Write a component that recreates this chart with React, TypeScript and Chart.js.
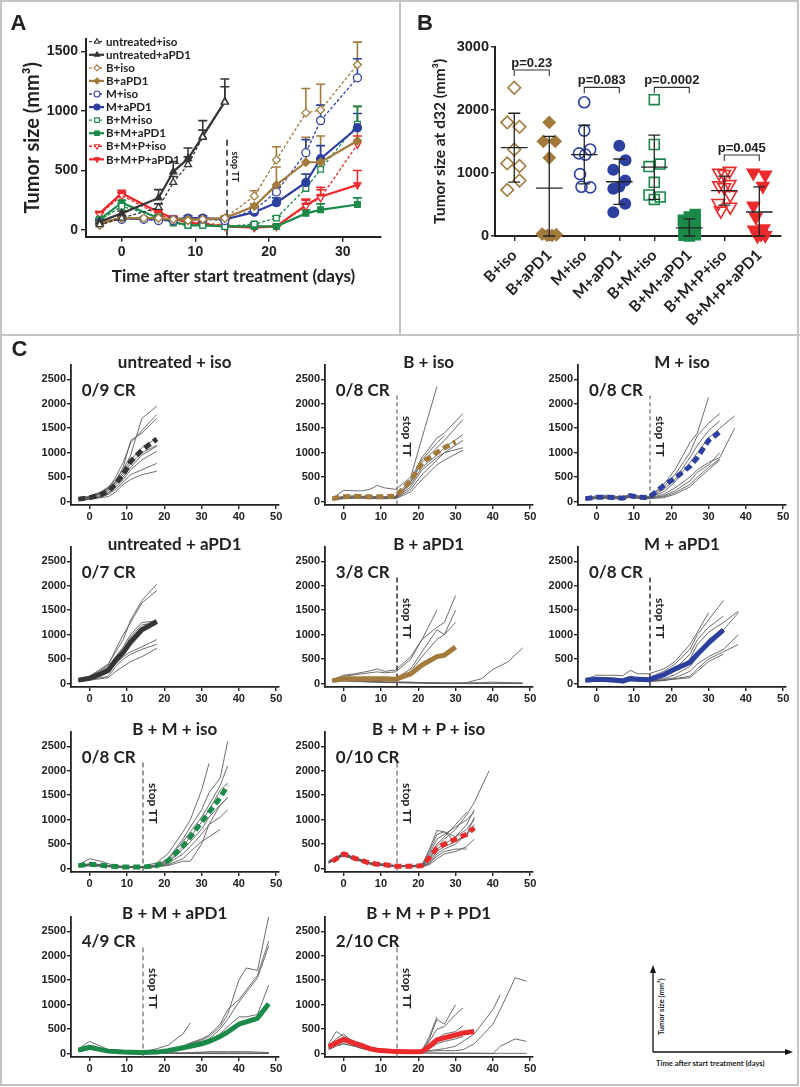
import React, { useEffect, useRef } from 'react';
import { Chart, registerables } from 'chart.js';
Chart.register(...registerables);

const NUM = '"Liberation Sans", Arial, sans-serif';
const LBL = 'Lato, "Open Sans", sans-serif';
const INK = '#222222';

const DARK = '#353535';
const BROWN = '#A27B3C';
const BLUE = '#2D3F9F';
const GREEN = '#1B8A49';
const RED = '#EB2A2C';

// ---------------- Panel A data ----------------
const aDays = [-3, 0, 3, 5, 7, 9, 11, 14, 18, 21, 25, 27, 32];
const aYTicks = [0, 500, 1000, 1500];
const aXTicks = [0, 10, 20, 30];
const aUntreatedIso = [45, 100, null, 190, 400, 550, 780, 1075, null, null, null, null, null];
const aUntreatedIsoErr = [10, 20, null, 30, 50, 65, 60, 195, null, null, null, null, null];
const aUntreatedPD1 = [70, 140, null, 270, 490, 600, 790, 1080, null, null, null, null, null];
const aUntreatedPD1Err = [10, 20, null, 70, 85, 90, 130, 125, null, null, null, null, null];
const aBIso = [40, 100, 100, 100, 90, 80, 90, 100, 285, 590, 985, 1010, 1390];
const aBIsoErr = [10, 15, 10, 10, 10, 10, 10, 15, 45, 110, 205, 215, 190];
const aBPD1 = [60, 100, null, 100, 90, 90, 90, 100, 200, 380, 570, 570, 750];
const aBPD1Err = [10, 15, null, 10, 10, 10, 10, 15, 20, 150, 210, 220, 290];
const aMIso = [60, 90, 90, 80, 80, 90, 90, 80, 170, 320, 650, 920, 1280];
const aMIsoErr = [10, 10, 10, 10, 10, 10, 10, 10, 20, 40, 110, 130, 160];
const aMPD1 = [60, 100, null, 90, 90, 100, 100, 90, 150, 230, 400, 600, 860];
const aMPD1Err = [10, 10, null, 10, 10, 20, 20, 10, 20, 40, 70, 110, 120];
const aBMIso = [80, 200, null, 110, 60, 40, 40, 30, 50, 100, 350, 510, 890];
const aBMIsoErr = [10, 25, null, 15, 10, 5, 5, 5, 10, 15, 50, 60, 150];
const aBMPD1 = [90, 230, null, 100, 70, 40, 40, 30, 30, 30, 140, 170, 215];
const aBMPD1Err = [10, 20, null, 15, 10, 5, 5, 5, 5, 5, 30, 50, 55];
const aBMPIso = [130, 290, null, 130, 90, 70, 60, 40, 30, 30, 200, 270, 720];
const aBMPIsoErr = [15, 25, null, 20, 10, 10, 10, 5, 5, 5, 50, 70, 70];
const aBMPPD1 = [140, 310, null, 150, 100, 60, 50, 30, 20, 30, 210, 280, 380];
const aBMPPD1Err = [15, 25, null, 20, 15, 10, 10, 5, 5, 5, 50, 80, 120];
const aStopDay = 14.3;

const aSeries = [
  { label: 'untreated+iso', vals: aUntreatedIso, errs: aUntreatedIsoErr, color: DARK, dash: true, marker: 'triangle', rot: 0, filled: false },
  { label: 'untreated+aPD1', vals: aUntreatedPD1, errs: aUntreatedPD1Err, color: DARK, dash: false, marker: 'triangle', rot: 0, filled: true },
  { label: 'B+iso', vals: aBIso, errs: aBIsoErr, color: BROWN, dash: true, marker: 'rectRot', rot: 0, filled: false },
  { label: 'B+aPD1', vals: aBPD1, errs: aBPD1Err, color: BROWN, dash: false, marker: 'rectRot', rot: 0, filled: true },
  { label: 'M+iso', vals: aMIso, errs: aMIsoErr, color: BLUE, dash: true, marker: 'circle', rot: 0, filled: false },
  { label: 'M+aPD1', vals: aMPD1, errs: aMPD1Err, color: BLUE, dash: false, marker: 'circle', rot: 0, filled: true },
  { label: 'B+M+iso', vals: aBMIso, errs: aBMIsoErr, color: GREEN, dash: true, marker: 'rect', rot: 0, filled: false },
  { label: 'B+M+aPD1', vals: aBMPD1, errs: aBMPD1Err, color: GREEN, dash: false, marker: 'rect', rot: 0, filled: true },
  { label: 'B+M+P+iso', vals: aBMPIso, errs: aBMPIsoErr, color: RED, dash: true, marker: 'triangle', rot: 180, filled: false },
  { label: 'B+M+P+aPD1', vals: aBMPPD1, errs: aBMPPD1Err, color: RED, dash: false, marker: 'triangle', rot: 180, filled: true },
];

// ---------------- Panel B data ----------------
const bGroups = ['B+iso', 'B+aPD1', 'M+iso', 'M+aPD1', 'B+M+iso', 'B+M+aPD1', 'B+M+P+iso', 'B+M+P+aPD1'];
const bYTicks = [0, 1000, 2000, 3000];
const bBIso = [2350, 1800, 1730, 1370, 1150, 1110, 880, 730];
const bBPD1 = [1800, 1500, 1500, 1240, 30, 10, 10, 20];
const bMIso = [2120, 1670, 1370, 1310, 1290, 980, 780, 770];
const bMPD1 = [1430, 1200, 1050, 880, 780, 750, 510, 375];
const bBMIso = [2160, 1450, 1140, 1100, 850, 650, 620, 580];
const bBMPD1 = [340, 300, 250, 200, 100, 60, 20, 10, 0];
const bBMPIso = [1030, 1000, 980, 820, 800, 770, 650, 520, 460, 400];
const bBMPPD1 = [1000, 970, 790, 480, 300, 120, 100, 30, 10, 0];
const bSpread = [
  [0, -0.2, 0.15, 0, -0.2, 0.15, 0.15, -0.2],
  [0, -0.17, 0.17, 0, -0.2, -0.06, 0.08, 0.2],
  [0, 0, 0.17, -0.15, 0.03, -0.12, -0.08, 0.17],
  [0, 0.18, -0.17, 0.17, 0, -0.17, 0.17, -0.17],
  [0, 0, 0.17, -0.15, 0, -0.15, 0.17, 0],
  [0.17, 0, -0.17, 0.17, -0.15, 0.05, 0.17, -0.15, 0],
  [0.15, -0.15, 0, 0.15, -0.15, 0, 0.17, -0.17, 0.17, -0.1],
  [-0.17, 0.17, 0.1, -0.17, -0.1, 0.12, -0.15, 0.05, 0.17, -0.05],
];
const bMean = [1400, 760, 1290, 860, 1090, 130, 720, 380];
const bSd = [545, 820, 465, 360, 510, 140, 230, 400];
const bPValues = ['p=0.23', 'p=0.083', 'p=0.0002', 'p=0.045'];
const bPPairs = [[0, 1], [2, 3], [4, 5], [6, 7]];
const bPLevel = [2630, 2356, 2356, 1284];

const bSeries = [
  { vals: bBIso, color: BROWN, marker: 'rectRot', rot: 0, filled: false, r: 6.3 },
  { vals: bBPD1, color: BROWN, marker: 'rectRot', rot: 0, filled: true, r: 5.8 },
  { vals: bMIso, color: BLUE, marker: 'circle', rot: 0, filled: false, r: 5.5 },
  { vals: bMPD1, color: BLUE, marker: 'circle', rot: 0, filled: true, r: 5.2 },
  { vals: bBMIso, color: GREEN, marker: 'rect', rot: 0, filled: false, r: 7 },
  { vals: bBMPD1, color: GREEN, marker: 'rect', rot: 0, filled: true, r: 7 },
  { vals: bBMPIso, color: RED, marker: 'triangle', rot: 180, filled: false, r: 7.3 },
  { vals: bBMPPD1, color: RED, marker: 'triangle', rot: 180, filled: true, r: 7 },
];

// ---------------- Panel C data ----------------
const cXTicks = [0, 10, 20, 30, 40, 50];
const cYTicks = [0, 500, 1000, 1500, 2000, 2500];
const cStopDay = 14.3;
const cStopTop = 2170;

const cUntrIsoDays = [-3, 0, 3, 5, 7, 9, 11, 14, 18];
const cUntrIsoMice = [
  [60, 100, 200, 300, 450, 650, 950, 1700, 1950],
  [50, 90, 180, 280, 500, 800, 1200, 1450, 1780],
  [70, 110, 190, 270, 420, 700, 1250, 1400, 1700],
  [60, 90, 160, 250, 380, 550, 780, 1000, 1150],
  [40, 80, 150, 220, 400, 600, 850, 1100, 1300],
  [50, 70, 120, 180, 350, 500, 700, 950, 1130],
  [40, 60, 100, 170, 300, 450, 650, 850, 1030],
  [30, 60, 90, 150, 250, 400, 550, 650, 780],
  [30, 50, 80, 100, 200, 350, 450, 550, 620],
];
const cUntrIsoMean = [50, 80, 140, 210, 360, 560, 820, 1050, 1280];

const cBIsoDays = [-3, 0, 3, 5, 7, 9, 11, 14, 18, 21, 25, 27, 32];
const cBIsoMice = [
  [70, 230, 220, 220, 250, 330, 280, 250, 500, 1300, 2350, null, null],
  [60, 110, 120, 110, 110, 100, 100, 110, 450, 900, 1300, 1400, 1800],
  [50, 90, 100, 100, 90, 90, 90, 100, 400, 800, 1100, 1250, 1680],
  [40, 80, 90, 80, 80, 80, 80, 90, 350, 700, 950, 1100, 1370],
  [50, 80, 90, 90, 80, 70, 80, 80, 300, 650, 900, 1000, 1100],
  [40, 70, 80, 80, 70, 70, 60, 70, 250, 550, 850, 1000, 1250],
  [30, 60, 70, 70, 60, 60, 60, 60, 200, 450, 750, 850, 1050],
  [40, 70, 80, 80, 70, 70, 70, 70, 400, 850, 1200, 1350, null],
];
const cBIsoMeanDays = [-3, 0, 3, 5, 7, 9, 11, 14, 18, 21, 25, 27, 30];
const cBIsoMean = [60, 100, 110, 100, 100, 100, 100, 110, 430, 800, 1000, 1100, 1220];

const cMIsoDays = [-3, 0, 3, 5, 7, 9, 11, 14, 18, 21, 25, 27, 30, 33, 37];
const cMIsoMice = [
  [60, 100, 110, 100, 80, 150, 110, 90, 350, 650, 1200, 1400, 2130, null, null],
  [70, 120, 130, 110, 90, 160, 120, 100, 300, 550, 1000, 1350, 1600, 1800, null],
  [50, 90, 100, 90, 80, 130, 100, 90, 250, 450, 900, 1150, 1450, 1650, null],
  [60, 90, 90, 80, 70, 120, 90, 80, 200, 400, 800, 1000, 1300, 1500, 1750],
  [50, 80, 80, 70, 60, 110, 80, 70, 150, 280, 500, 650, 800, 900, 1500],
  [40, 70, 70, 60, 60, 100, 70, 60, 120, 220, 420, 600, 750, 1000, null],
  [50, 80, 80, 70, 60, 100, 80, 70, 100, 180, 350, 500, 700, 870, null],
  [40, 60, 70, 60, 50, 90, 70, 60, 80, 150, 300, 450, 650, 850, null],
];
const cMIsoMeanDays = [-3, 0, 3, 5, 7, 9, 11, 14, 18, 21, 25, 27, 30, 33];
const cMIsoMean = [60, 90, 90, 80, 70, 120, 90, 80, 330, 480, 720, 900, 1250, 1420];

const cUntrPD1Days = [-3, 0, 3, 5, 7, 9, 11, 14, 18];
const cUntrPD1Mice = [
  [60, 150, 300, 400, 650, 900, 1300, 1700, 2030],
  [80, 130, 280, 380, 700, 1000, 1250, 1650, 1900],
  [90, 120, 250, 350, 550, 750, 1000, 1250, 1280],
  [70, 100, 200, 300, 500, 700, 950, 1200, 1250],
  [50, 80, 150, 250, 400, 550, 650, 750, 900],
  [60, 90, 120, 150, 350, 500, 600, 700, 800],
  [40, 70, 100, 120, 250, 350, 450, 550, 720],
];
const cUntrPD1Mean = [70, 110, 200, 270, 480, 640, 850, 1100, 1270];

const cBPD1Days = [-3, 0, 3, 5, 7, 9, 11, 14, 18, 21, 25, 27, 30, 33, 37, 40, 44, 48];
const cBPD1Mice = [
  [80, 170, 200, 230, 260, 300, 250, 280, 550, 900, 1500, null, null, null, null, null, null, null],
  [70, 150, 180, 200, 220, 240, 220, 240, 500, 900, 1150, 1250, 1800, null, null, null, null, null],
  [60, 100, 110, 120, 110, 110, 100, 110, 300, 650, 1100, 1000, 1500, null, null, null, null, null],
  [50, 90, 100, 100, 90, 90, 80, 100, 250, 550, 900, 1000, 1250, null, null, null, null, null],
  [70, 80, 70, 60, 50, 40, 30, 30, 30, 20, 10, 10, 10, 20, 100, 290, 440, 730],
  [50, 60, 50, 40, 40, 30, 30, 20, 20, 10, 10, 10, 10, 10, 20, 30, 20, 10],
  [40, 50, 40, 40, 30, 30, 20, 20, 10, 10, 0, 0, 0, 0, 0, 0, 0, 0],
  [60, 70, 60, 50, 40, 40, 30, 30, 20, 20, 20, 10, 10, 10, 10, 10, 10, 10],
];
const cBPD1MeanDays = [-3, 0, 3, 5, 7, 9, 11, 14, 18, 21, 25, 27, 30];
const cBPD1Mean = [60, 100, 100, 100, 100, 100, 100, 90, 200, 380, 550, 580, 750];

const cMPD1Days = [-3, 0, 3, 5, 7, 9, 11, 14, 18, 21, 25, 27, 30, 34, 38];
const cMPD1Mice = [
  [90, 170, 170, 170, 160, 270, 200, 200, 300, 450, 800, 1050, 1450, null, null],
  [80, 120, 120, 110, 100, 150, 120, 120, 250, 400, 700, 1000, 1300, 1700, null],
  [70, 100, 100, 90, 80, 110, 90, 90, 200, 300, 600, 900, 1150, 1380, null],
  [60, 80, 80, 70, 60, 100, 80, 80, 150, 250, 500, 800, 1050, 1250, 1480],
  [60, 80, 70, 60, 50, 90, 70, 60, 100, 180, 350, 550, 900, 1100, 1450],
  [50, 70, 60, 50, 40, 70, 60, 50, 80, 120, 250, 400, 550, 700, 1000],
  [40, 60, 50, 40, 40, 60, 50, 40, 60, 100, 150, 300, 500, 650, 800],
  [50, 60, 60, 50, 40, 70, 60, 50, 70, 90, 120, 250, 450, 600, null],
];
const cMPD1MeanDays = [-3, 0, 3, 5, 7, 9, 11, 14, 18, 21, 25, 27, 30, 34];
const cMPD1Mean = [70, 90, 80, 70, 50, 100, 90, 80, 180, 300, 430, 600, 830, 1100];

const cBMIsoDays = [-3, 0, 3, 5, 7, 9, 11, 14, 18, 21, 25, 27, 30, 32, 35, 37];
const cBMIsoMice = [
  [80, 200, 150, 100, 60, 50, 40, 40, 120, 300, 750, 1000, 1600, 2150, null, null],
  [60, 100, 80, 60, 50, 40, 40, 30, 80, 200, 600, 850, 1200, 1550, 1850, 2600],
  [70, 90, 70, 50, 40, 30, 30, 30, 60, 180, 550, 750, 1050, 1300, 1700, 2100],
  [50, 80, 60, 50, 40, 30, 20, 30, 50, 150, 450, 650, 950, 1200, 1600, 1750],
  [60, 70, 60, 50, 40, 30, 30, 20, 50, 120, 400, 550, 800, 1050, 1300, 1450],
  [50, 60, 50, 40, 30, 30, 20, 20, 40, 100, 300, 450, 700, 900, 1050, 1200],
  [40, 60, 50, 40, 30, 20, 20, 20, 40, 80, 200, 350, 550, 650, 800, null],
  [70, 80, 60, 50, 40, 30, 30, 30, 40, 60, 150, 150, 500, 900, 1300, 1450],
];
const cBMIsoMean = [60, 90, 70, 50, 40, 30, 30, 30, 60, 160, 450, 650, 950, 1150, 1450, 1700];

const cBMPIsoDays = [-4, 0, 3, 5, 7, 9, 11, 14, 18, 21, 23, 25, 27, 30, 33, 35, 39];
const cBMPIsoMice = [
  [120, 320, 220, 180, 120, 100, 90, 60, 60, 60, 200, 450, 600, 800, 1100, 1350, 2000],
  [150, 300, 200, 160, 110, 90, 80, 50, 50, 60, 400, 780, 750, 650, 900, 1200, null],
  [140, 280, 200, 150, 100, 80, 70, 50, 40, 50, 300, 600, 700, 850, 1000, 1150, null],
  [130, 290, 210, 160, 110, 90, 80, 50, 50, 70, 250, 500, 650, 900, 1150, null, null],
  [160, 310, 220, 170, 120, 100, 90, 60, 60, 80, 350, 700, 750, 550, 700, 1050, null],
  [120, 270, 190, 150, 100, 80, 70, 40, 40, 50, 200, 400, 500, 650, 800, 1000, null],
  [150, 300, 200, 160, 110, 90, 70, 50, 50, 50, 150, 350, 450, 550, 700, 900, null],
  [130, 290, 210, 160, 100, 80, 70, 50, 40, 40, 100, 300, 400, 500, 700, 850, null],
  [110, 260, 180, 140, 90, 70, 60, 40, 40, 40, 120, 250, 350, 400, 400, null, null],
  [140, 280, 190, 150, 100, 80, 60, 40, 40, 40, 80, 200, 300, 350, 450, 600, null],
];
const cBMPIsoMeanDays = [-3, 0, 3, 5, 7, 9, 11, 14, 18, 21, 23, 25, 27, 30, 33, 35];
const cBMPIsoMean = [150, 300, 210, 160, 110, 90, 80, 50, 50, 60, 220, 420, 500, 600, 700, 830];

const cBMPD1Days = [-3, 0, 3, 5, 7, 9, 11, 14, 18, 21, 25, 27, 30, 32, 35, 37, 40, 42, 45, 48];
const cBMPD1Mice = [
  [100, 250, 150, 80, 60, 50, 40, 30, 100, 170, 400, 630, null, null, null, null, null, null, null, null],
  [80, 150, 100, 60, 50, 40, 30, 30, 40, 60, 120, 200, 280, 350, 550, 800, 1500, 1750, 1700, 2800],
  [70, 140, 90, 60, 50, 40, 30, 30, 40, 70, 150, 220, 300, 380, 600, 900, 1100, 1300, 1600, 2300],
  [60, 120, 80, 50, 40, 30, 30, 20, 30, 60, 130, 200, 250, 300, 500, 700, 1050, 1250, 1550, 2200],
  [70, 130, 80, 50, 40, 30, 20, 20, 30, 50, 100, 150, 220, 280, 400, 550, 750, 750, 800, 1400],
  [50, 100, 70, 40, 30, 20, 20, 10, 10, 10, 10, 20, 30, 40, 40, 40, 40, 40, 30, 20],
  [60, 110, 70, 40, 30, 20, 20, 10, 10, 10, 10, 10, 10, 10, 10, 10, 10, 10, 10, 10],
  [40, 90, 60, 30, 20, 20, 10, 10, 10, 10, 0, 0, 0, 0, 0, 0, 0, 0, 0, 0],
  [50, 100, 60, 40, 30, 20, 10, 10, 10, 10, 10, 10, 10, 10, 10, 10, 10, 10, 10, 10],
];
const cBMPD1Mean = [70, 130, 80, 50, 40, 30, 25, 20, 30, 60, 120, 150, 200, 250, 350, 440, 600, 650, 720, 1020];

const cBMPPD1Days = [-4, -2, 0, 3, 5, 7, 9, 11, 14, 18, 21, 23, 25, 27, 30, 32, 35, 40, 42, 46, 49];
const cBMPPD1Mice = [
  [150, 200, 250, 180, 140, 100, 80, 60, 50, 40, 40, 50, 60, 60, 60, 80, 200, 600, 900, 1550, 1480],
  [120, 250, 300, 200, 150, 100, 70, 60, 50, 40, 40, 60, 80, 100, 150, 250, 400, 900, 1200, null, null],
  [200, 450, 350, 250, 150, 100, 70, 60, 50, 40, 50, 300, 700, 600, 1000, null, null, null, null, null, null],
  [150, 300, 400, 200, 150, 100, 70, 60, 50, 40, 50, 250, 500, 550, 800, 930, null, null, null, null, null],
  [130, 250, 300, 200, 150, 100, 80, 60, 50, 40, 60, 350, 750, null, null, null, null, null, null, null, null],
  [100, 200, 250, 180, 140, 100, 70, 60, 40, 30, 40, 200, 300, 400, 450, 570, null, null, null, null, null],
  [120, 220, 280, 190, 140, 90, 60, 50, 40, 30, 30, 100, 200, 250, 300, 350, null, null, null, null, null],
  [80, 150, 200, 150, 100, 70, 50, 40, 30, 20, 20, 10, 10, 10, 10, 10, 10, 0, 150, 300, 250],
  [100, 180, 200, 150, 100, 70, 50, 40, 30, 20, 10, 10, 10, 5, 5, 5, 5, 5, 5, 5, 5],
  [130, 220, 260, 170, 130, 90, 60, 50, 40, 30, 40, 150, 250, 300, 350, 400, null, null, null, null, null],
];
const cBMPPD1MeanDays = [-4, -2, 0, 3, 5, 7, 9, 11, 14, 18, 21, 23, 25, 27, 30, 32, 35];
const cBMPPD1Mean = [140, 220, 290, 210, 160, 100, 70, 60, 40, 35, 40, 150, 280, 320, 380, 420, 450];

const cPanels = [
  { title: 'untreated + iso', cr: '0/9 CR', col: 0, row: 0, days: cUntrIsoDays, mice: cUntrIsoMice, meanDays: cUntrIsoDays, mean: cUntrIsoMean, color: DARK, dashed: true, stop: null },
  { title: 'B + iso', cr: '0/8 CR', col: 1, row: 0, days: cBIsoDays, mice: cBIsoMice, meanDays: cBIsoMeanDays, mean: cBIsoMean, color: BROWN, dashed: true, stop: '#444' },
  { title: 'M + iso', cr: '0/8 CR', col: 2, row: 0, days: cMIsoDays, mice: cMIsoMice, meanDays: cMIsoMeanDays, mean: cMIsoMean, color: BLUE, dashed: true, stop: '#444' },
  { title: 'untreated + aPD1', cr: '0/7 CR', col: 0, row: 1, days: cUntrPD1Days, mice: cUntrPD1Mice, meanDays: cUntrPD1Days, mean: cUntrPD1Mean, color: DARK, dashed: false, stop: null },
  { title: 'B + aPD1', cr: '3/8 CR', col: 1, row: 1, days: cBPD1Days, mice: cBPD1Mice, meanDays: cBPD1MeanDays, mean: cBPD1Mean, color: BROWN, dashed: false, stop: '#333' },
  { title: 'M + aPD1', cr: '0/8 CR', col: 2, row: 1, days: cMPD1Days, mice: cMPD1Mice, meanDays: cMPD1MeanDays, mean: cMPD1Mean, color: BLUE, dashed: false, stop: '#333' },
  { title: 'B + M + iso', cr: '0/8 CR', col: 0, row: 2, days: cBMIsoDays, mice: cBMIsoMice, meanDays: cBMIsoDays, mean: cBMIsoMean, color: GREEN, dashed: true, stop: '#777' },
  { title: 'B + M + P + iso', cr: '0/10 CR', col: 1, row: 2, days: cBMPIsoDays, mice: cBMPIsoMice, meanDays: cBMPIsoMeanDays, mean: cBMPIsoMean, color: RED, dashed: true, stop: '#888' },
  { title: 'B + M + aPD1', cr: '4/9 CR', col: 0, row: 3, days: cBMPD1Days, mice: cBMPD1Mice, meanDays: cBMPD1Days, mean: cBMPD1Mean, color: GREEN, dashed: false, stop: '#888' },
  { title: 'B + M + P + PD1', cr: '2/10 CR', col: 1, row: 3, days: cBMPPD1Days, mice: cBMPPD1Mice, meanDays: cBMPPD1MeanDays, mean: cBMPPD1Mean, color: RED, dashed: false, stop: '#888' },
];

// ---------------- layout constants ----------------
const C_AXIS_X = [70.7, 324.7, 578];
const C_ZERO_Y = [501.7, 684, 869, 1053.3];
const C_KY = 0.04892;
const C_KX = 3.73;
const C_H = 140;
const C_W = 208;
const C_YMIN = -70;
const C_YMAX = C_YMIN + C_H / C_KY;
const C_XMIN = -5;
const C_XMAX = C_XMIN + C_W / C_KX;
const C_PAD_TOP = 10;
const C_YAXIS_W = 50;
const C_XAXIS_H = 22;

// ---------------- helpers ----------------
function toPts(days: number[], vals: (number | null)[]) {
  const out: any[] = [];
  days.forEach((d, i) => {
    const v = vals[i];
    if (v !== null && v !== undefined) out.push({ x: d, y: v });
  });
  return out;
}

function drawMarker(ctx: any, style: string, x: number, y: number, r: number, rot: number, fill: string, stroke: string, lw: number) {
  ctx.save();
  ctx.translate(x, y);
  ctx.rotate((rot * Math.PI) / 180);
  ctx.beginPath();
  if (style === 'circle') ctx.arc(0, 0, r, 0, Math.PI * 2);
  else if (style === 'triangle') {
    ctx.moveTo(0, -r);
    ctx.lineTo(r * 0.866, r * 0.5);
    ctx.lineTo(-r * 0.866, r * 0.5);
    ctx.closePath();
  } else if (style === 'rect') {
    const s = r * 0.75;
    ctx.rect(-s, -s, 2 * s, 2 * s);
  } else {
    ctx.moveTo(0, -r);
    ctx.lineTo(r, 0);
    ctx.lineTo(0, r);
    ctx.lineTo(-r, 0);
    ctx.closePath();
  }
  ctx.fillStyle = fill;
  ctx.fill();
  ctx.lineWidth = lw;
  ctx.strokeStyle = stroke;
  ctx.stroke();
  ctx.restore();
}

const fixedTicks = (vals: number[]) => (s: any) => {
  s.ticks = vals.map((v) => ({ value: v }));
};

function axisBase(font: any, tickLen: number, pad: number, bw: number) {
  return {
    ticks: { font, color: INK, padding: pad, callback: (v: any) => String(v) },
    grid: { display: true, drawOnChartArea: false, drawTicks: true, tickLength: tickLen, color: INK, lineWidth: 1.4 },
    border: { display: true, color: INK, width: bw },
  };
}

// ---------------- Panel A ----------------
function makeA() {
  const plugin = {
    id: 'aExtras',
    beforeDatasetsDraw(chart: any) {
      const ctx = chart.ctx;
      const xs = chart.scales.x;
      const ys = chart.scales.y;
      const sx = xs.getPixelForValue(aStopDay);
      ctx.save();
      ctx.strokeStyle = '#111';
      ctx.lineWidth = 1.4;
      ctx.setLineDash([6, 4]);
      ctx.beginPath();
      ctx.moveTo(sx, ys.getPixelForValue(760));
      ctx.lineTo(sx, chart.chartArea.bottom);
      ctx.stroke();
      ctx.setLineDash([]);
      ctx.translate(sx + 8, ys.getPixelForValue(660));
      ctx.rotate(Math.PI / 2);
      ctx.fillStyle = INK;
      ctx.font = `bold 9px ${LBL}`;
      ctx.textAlign = 'left';
      ctx.textBaseline = 'middle';
      ctx.fillText('stop TT', 0, 0);
      ctx.restore();
      chart.data.datasets.forEach((ds: any, di: number) => {
        const meta = chart.getDatasetMeta(di);
        ds.data.forEach((p: any, i: number) => {
          const el = meta.data[i];
          if (!el || !p.e) return;
          const top = ys.getPixelForValue(p.y + p.e);
          ctx.save();
          ctx.strokeStyle = ds.borderColor;
          ctx.lineWidth = 1.6;
          ctx.beginPath();
          ctx.moveTo(el.x, el.y);
          ctx.lineTo(el.x, top);
          ctx.moveTo(el.x - 4.5, top);
          ctx.lineTo(el.x + 4.5, top);
          ctx.stroke();
          ctx.restore();
        });
      });
    },
    afterDraw(chart: any) {
      const ctx = chart.ctx;
      chart.data.datasets.forEach((ds: any, i: number) => {
        const y = 41.7 + i * 13.07;
        ctx.save();
        ctx.strokeStyle = ds.borderColor;
        ctx.lineWidth = ds.borderWidth;
        ctx.setLineDash(ds.borderDash || []);
        ctx.beginPath();
        ctx.moveTo(89, y);
        ctx.lineTo(104, y);
        ctx.stroke();
        ctx.setLineDash([]);
        drawMarker(ctx, ds.pointStyle, 97, y, 3, ds.pointRotation, ds.pointBackgroundColor, ds.borderColor, 1.1);
        ctx.fillStyle = INK;
        ctx.font = `bold 11.5px ${LBL}`;
        ctx.textAlign = 'left';
        ctx.textBaseline = 'middle';
        ctx.fillText(ds.label, 106, y + 0.5);
        ctx.restore();
      });
    },
  };
  const tickFont = { family: NUM, size: 14, weight: 'bold' };
  return {
    type: 'line',
    data: {
      datasets: aSeries.map((s) => ({
        label: s.label,
        data: aDays
          .map((d, i) => (s.vals[i] === null ? null : { x: d, y: s.vals[i], e: s.errs[i] }))
          .filter((p) => p),
        borderColor: s.color,
        backgroundColor: s.filled ? s.color : '#ffffff',
        borderWidth: s.dash ? 1.3 : 2.2,
        borderDash: s.dash ? [3, 2] : [],
        pointStyle: s.marker,
        pointRotation: s.rot,
        pointRadius: 4,
        pointBorderWidth: 1.3,
        pointBackgroundColor: s.filled ? s.color : '#ffffff',
        pointBorderColor: s.color,
        tension: 0,
        fill: false,
        clip: false,
      })),
    },
    options: {
      animation: false,
      responsive: false,
      devicePixelRatio: 1,
      layout: { padding: { left: 16, top: 39, right: 19, bottom: 0 } },
      plugins: { legend: { display: false }, tooltip: { enabled: false } },
      scales: {
        x: {
          type: 'linear',
          min: -4.85,
          max: 35.2,
          afterBuildTicks: fixedTicks(aXTicks),
          afterFit: (s: any) => { s.height = 63.3; },
          ...axisBase(tickFont, 5, 2, 2),
          title: { display: true, text: 'Time after start treatment (days)', color: INK, font: { family: LBL, size: 17, weight: 'bold' }, padding: { top: 0, bottom: 13.5 } },
        },
        y: {
          type: 'linear',
          min: -56,
          max: 1606,
          afterBuildTicks: fixedTicks(aYTicks),
          afterFit: (s: any) => { s.width = 70; },
          ...axisBase(tickFont, 5, 3, 2),
          title: { display: true, text: 'Tumor size (mm³)', color: INK, font: { family: LBL, size: 20, weight: 'bold' }, padding: { top: 5, bottom: 0 } },
        },
      },
    },
    plugins: [plugin],
  };
}

// ---------------- Panel B ----------------
function makeB() {
  const plugin = {
    id: 'bExtras',
    afterDatasetsDraw(chart: any) {
      const ctx = chart.ctx;
      const xs = chart.scales.x;
      const ys = chart.scales.y;
      const ca = chart.chartArea;
      ctx.save();
      ctx.strokeStyle = INK;
      ctx.lineWidth = 1.3;
      bMean.forEach((m, g) => {
        const cx = xs.getPixelForValue(g);
        const halfMean = xs.getPixelForValue(g + 0.38) - cx;
        const halfCap = xs.getPixelForValue(g + 0.17) - cx;
        const yM = ys.getPixelForValue(m);
        const yT = ys.getPixelForValue(m + bSd[g]);
        const yB = Math.min(ys.getPixelForValue(Math.max(m - bSd[g], 0)), ca.bottom);
        ctx.beginPath();
        ctx.moveTo(cx - halfMean, yM);
        ctx.lineTo(cx + halfMean, yM);
        ctx.moveTo(cx, yT);
        ctx.lineTo(cx, yB);
        ctx.moveTo(cx - halfCap, yT);
        ctx.lineTo(cx + halfCap, yT);
        ctx.moveTo(cx - halfCap, yB);
        ctx.lineTo(cx + halfCap, yB);
        ctx.stroke();
      });
      ctx.lineWidth = 1.1;
      ctx.strokeStyle = '#333';
      ctx.fillStyle = INK;
      ctx.font = `bold 13px ${NUM}`;
      ctx.textAlign = 'center';
      ctx.textBaseline = 'alphabetic';
      bPPairs.forEach((pr, k) => {
        const x1 = xs.getPixelForValue(pr[0]);
        const x2 = xs.getPixelForValue(pr[1]);
        const y = ys.getPixelForValue(bPLevel[k]);
        ctx.beginPath();
        ctx.moveTo(x1, y + 6);
        ctx.lineTo(x1, y);
        ctx.lineTo(x2, y);
        ctx.lineTo(x2, y + 6);
        ctx.stroke();
        ctx.fillText(bPValues[k], (x1 + x2) / 2, y - 3);
      });
      ctx.restore();
    },
  };
  const tickFont = { family: NUM, size: 14.5, weight: 'bold' };
  return {
    type: 'scatter',
    data: {
      datasets: bSeries.map((s, g) => ({
        data: s.vals.map((v, j) => ({ x: g + bSpread[g][j], y: v })),
        pointStyle: s.marker,
        pointRotation: s.rot,
        pointRadius: s.r,
        pointBorderWidth: 1.6,
        pointBorderColor: s.color,
        pointBackgroundColor: s.filled ? s.color : 'rgba(255,255,255,0)',
        borderColor: s.color,
        backgroundColor: s.filled ? s.color : 'rgba(255,255,255,0)',
        clip: false,
      })),
    },
    options: {
      animation: false,
      responsive: false,
      devicePixelRatio: 1,
      layout: { padding: { left: 0, top: 46.7, right: 19, bottom: 0 } },
      plugins: { legend: { display: false }, tooltip: { enabled: false } },
      scales: {
        x: {
          type: 'linear',
          min: -0.55,
          max: 7.62,
          afterBuildTicks: fixedTicks([0, 1, 2, 3, 4, 5, 6, 7]),
          afterFit: (s: any) => { s.height = 99; },
          ...axisBase({ family: LBL, size: 15.5, weight: 'bold' }, 5, 1, 2),
          ticks: { font: { family: LBL, size: 15.5, weight: 'bold' }, color: INK, padding: 5, minRotation: 45, maxRotation: 45, autoSkip: false, callback: (v: any) => bGroups[v] || '' },
        },
        y: {
          type: 'linear',
          min: 0,
          max: 3000,
          afterBuildTicks: fixedTicks(bYTicks),
          afterFit: (s: any) => { s.width = 95; },
          ...axisBase(tickFont, 4, 2, 2),
          title: { display: true, text: 'Tumor size at d32 (mm³)', color: INK, font: { family: LBL, size: 15.5, weight: 'bold' }, padding: { top: 30.7, bottom: 0 } },
        },
      },
    },
    plugins: [plugin],
  };
}

// ---------------- Panel C ----------------
function makeSmall(p: any) {
  const plugin = {
    id: 'stopTT',
    beforeDatasetsDraw(chart: any) {
      if (!p.stop) return;
      const ctx = chart.ctx;
      const xs = chart.scales.x;
      const ys = chart.scales.y;
      const sx = xs.getPixelForValue(cStopDay);
      ctx.save();
      ctx.strokeStyle = p.stop;
      ctx.lineWidth = p.stop === '#444' ? 1 : 1.5;
      ctx.setLineDash(p.stop === '#444' ? [4, 3] : [5, 3]);
      ctx.beginPath();
      ctx.moveTo(sx, ys.getPixelForValue(cStopTop));
      ctx.lineTo(sx, chart.chartArea.bottom);
      ctx.stroke();
      ctx.setLineDash([]);
      ctx.translate(sx + 4, ys.getPixelForValue(1750));
      ctx.rotate(Math.PI / 2);
      ctx.fillStyle = INK;
      ctx.font = `bold 12px ${LBL}`;
      ctx.textAlign = 'left';
      ctx.textBaseline = 'top';
      ctx.fillText('stop TT', 0, -12);
      ctx.restore();
    },
  };
  const tickFont = { family: NUM, size: 11, weight: 'bold' };
  return {
    type: 'line',
    data: {
      datasets: [
        {
          data: toPts(p.meanDays, p.mean),
          borderColor: p.color,
          borderWidth: 5,
          borderDash: p.dashed ? [7, 4] : [],
          borderJoinStyle: 'round',
          pointRadius: 0,
          tension: 0,
          fill: false,
          order: 0,
        },
        ...p.mice.map((m: any) => ({
          data: toPts(p.days, m),
          borderColor: '#5c5c5c',
          borderWidth: 0.9,
          pointRadius: 0,
          tension: 0,
          fill: false,
          order: 1,
        })),
      ],
    },
    options: {
      animation: false,
      responsive: false,
      devicePixelRatio: 1,
      layout: { padding: { left: 0, top: C_PAD_TOP, right: 15, bottom: 0 } },
      plugins: { legend: { display: false }, tooltip: { enabled: false } },
      scales: {
        x: {
          type: 'linear',
          min: C_XMIN,
          max: C_XMAX,
          afterBuildTicks: fixedTicks(cXTicks),
          afterFit: (s: any) => { s.height = C_XAXIS_H; },
          ...axisBase(tickFont, 4, 1, 1.8),
        },
        y: {
          type: 'linear',
          min: C_YMIN,
          max: C_YMAX,
          afterBuildTicks: fixedTicks(cYTicks),
          afterFit: (s: any) => { s.width = C_YAXIS_W; },
          ...axisBase(tickFont, 4, 1, 1.8),
        },
      },
    },
    plugins: [plugin],
  };
}

function ChartCanvas({ left, top, width, height, make }: any) {
  const ref = useRef<HTMLCanvasElement | null>(null);
  useEffect(() => {
    const chart = new Chart(ref.current as any, make());
    return () => chart.destroy();
  }, []);
  return (
    <canvas
      ref={ref}
      width={width}
      height={height}
      style={{ position: 'absolute', left, top, width, height }}
    />
  );
}

const textBase: any = { position: 'absolute', color: INK, whiteSpace: 'nowrap', lineHeight: 1 };

export default function App() {
  const canvasW = C_YAXIS_W + C_W + 15;
  const canvasH = C_PAD_TOP + C_H + C_XAXIS_H;
  return (
    <div style={{ position: 'absolute', left: 0, top: 0, width: 800, height: 1087, background: '#fff', overflow: 'hidden' }}>
      <svg width={800} height={1087} style={{ position: 'absolute', left: 0, top: 0 }}>
        <rect x={1} y={1} width={797} height={1084} fill="none" stroke="#c4c4c4" strokeWidth={2} />
        <line x1={400} y1={0} x2={400} y2={335} stroke="#c4c4c4" strokeWidth={2} />
        <line x1={0} y1={335} x2={800} y2={335} stroke="#c4c4c4" strokeWidth={2} />
        <line x1={653} y1={1052} x2={653} y2={972} stroke="#111" strokeWidth={1.3} />
        <polygon points="653,965 650,973 656,973" fill="#111" />
        <line x1={653} y1={1052} x2={786} y2={1052} stroke="#111" strokeWidth={1.3} />
        <polygon points="793,1052 785,1049 785,1055" fill="#111" />
        <text x={0} y={0} transform="translate(664,1035) rotate(-90)" fontFamily={LBL} fontWeight="bold" fontSize={7.5} fill={INK}>Tumor size (mm³)</text>
        <text x={656} y={1066} fontFamily={LBL} fontWeight="bold" fontSize={7.6} fill={INK}>Time after start treatment (days)</text>
      </svg>
      <ChartCanvas left={0} top={0} width={400} height={300} make={makeA} />
      <ChartCanvas left={400} top={0} width={400} height={335} make={makeB} />
      {cPanels.map((p, i) => (
        <ChartCanvas
          key={i}
          left={C_AXIS_X[p.col] - C_YAXIS_W}
          top={C_ZERO_Y[p.row] - C_YMAX * C_KY - C_PAD_TOP}
          width={canvasW}
          height={canvasH}
          make={() => makeSmall(p)}
        />
      ))}
      {cPanels.map((p, i) => (
        <div key={'t' + i} style={{ ...textBase, left: C_AXIS_X[p.col] + C_W / 2, top: C_ZERO_Y[p.row] - 141, transform: 'translate(-50%, -50%)', font: `bold 17px ${LBL}` }}>
          {p.title}
        </div>
      ))}
      {cPanels.map((p, i) => (
        <div key={'c' + i} style={{ ...textBase, left: C_AXIS_X[p.col] + 11, top: C_ZERO_Y[p.row] - 113, transform: 'translateY(-50%)', font: `bold 17px ${LBL}` }}>
          {p.cr}
        </div>
      ))}
      <div style={{ ...textBase, left: 18.5, top: 22.5, transform: 'translate(-50%, -50%)', font: `bold 22px ${NUM}` }}>A</div>
      <div style={{ ...textBase, left: 425, top: 22.5, transform: 'translate(-50%, -50%)', font: `bold 22px ${NUM}` }}>B</div>
      <div style={{ ...textBase, left: 19.5, top: 348.5, transform: 'translate(-50%, -50%)', font: `bold 22px ${NUM}` }}>C</div>
    </div>
  );
}
